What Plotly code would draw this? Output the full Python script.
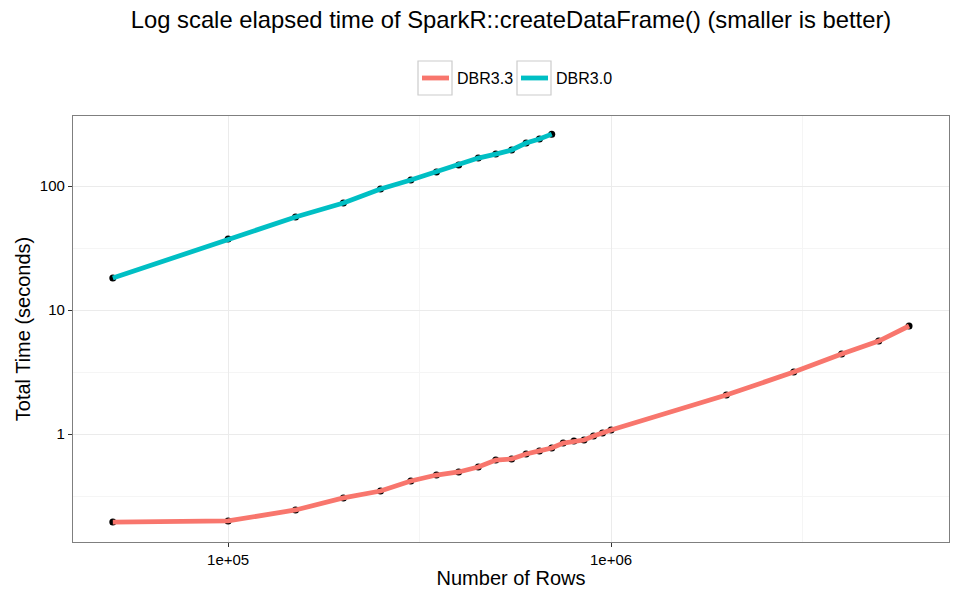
import plotly.graph_objects as go

# ---- data ----
rows_dbr30 = [5e4, 1e5, 1.5e5, 2e5, 2.5e5, 3e5, 3.5e5, 4e5, 4.5e5, 5e5, 5.5e5, 6e5, 6.5e5, 7e5]
time_dbr30 = [18.1, 37.4, 56.2, 72.9, 94.6, 111.7, 129.6, 147.6, 168.0, 181.0, 195.0, 222.0, 239.0, 262.0]

rows_dbr33 = [5e4, 1e5, 1.5e5, 2e5, 2.5e5, 3e5, 3.5e5, 4e5, 4.5e5, 5e5, 5.5e5, 6e5, 6.5e5, 7e5,
              7.5e5, 8e5, 8.5e5, 9e5, 9.5e5, 1e6, 2e6, 3e6, 4e6, 5e6, 6e6]
time_dbr33 = [0.195, 0.199, 0.244, 0.305, 0.347, 0.418, 0.467, 0.494, 0.542, 0.617, 0.629, 0.69, 0.73, 0.77,
              0.846, 0.878, 0.894, 0.963, 1.02, 1.077, 2.06, 3.16, 4.42, 5.62, 7.43]

x_tickvals = [1e5, 1e6]
x_ticktext = ["1e+05", "1e+06"]
y_tickvals = [1, 10, 100]
y_ticktext = ["1", "10", "100"]
x_minor = [10 ** 5.5, 10 ** 6.5]
y_minor = [10 ** -0.5, 10 ** 0.5, 10 ** 1.5]

series = [("DBR3.3", rows_dbr33, time_dbr33, "#F8766D"),
          ("DBR3.0", rows_dbr30, time_dbr30, "#00BFC4")]

FONT = "Liberation Sans, Arial, sans-serif"

fig = go.Figure()
# points first (black), lines drawn over them
for name, xs, ys, col in series:
    fig.add_trace(go.Scatter(x=xs, y=ys, mode="markers", showlegend=False,
                             marker=dict(color="black", size=7), hoverinfo="skip"))
for name, xs, ys, col in series:
    fig.add_trace(go.Scatter(x=xs, y=ys, mode="lines", name=name, showlegend=False,
                             line=dict(color=col, width=4.8)))

# plot area geometry in px
L, R, T, B = 73, 949, 116, 542
W, H = R - L, B - T


def px_x(p):
    return (p - L) / W


def px_y(p):
    return (B - p) / H


# manual ggplot-style legend
shapes = []
annotations = []
legend_items = [(418, "DBR3.3", "#F8766D"), (517, "DBR3.0", "#00BFC4")]
for x0, label, col in legend_items:
    shapes.append(dict(type="rect", xref="paper", yref="paper",
                       x0=px_x(x0), x1=px_x(x0 + 34), y0=px_y(95), y1=px_y(61),
                       line=dict(color="#cccccc", width=1.2), fillcolor="white", layer="above"))
    shapes.append(dict(type="line", xref="paper", yref="paper",
                       x0=px_x(x0 + 4), x1=px_x(x0 + 31), y0=px_y(78), y1=px_y(78),
                       line=dict(color=col, width=4.8), layer="above"))
    annotations.append(dict(text=label, xref="paper", yref="paper", x=px_x(x0 + 37), y=px_y(78),
                            xanchor="left", yanchor="middle", showarrow=False,
                            font=dict(size=16, color="black", family=FONT)))

fig.update_layout(
    width=960, height=600,
    margin=dict(l=L, r=960 - R, t=T, b=600 - B),
    paper_bgcolor="white", plot_bgcolor="white",
    font=dict(family=FONT, color="black"),
    title=dict(text="Log scale elapsed time of SparkR::createDataFrame() (smaller is better)",
               x=(L + R) / 2 / 960, xanchor="center", y=1 - 20 / 600, yanchor="middle",
               font=dict(size=23.8, color="black", family=FONT)),
    shapes=shapes, annotations=annotations,
    xaxis=dict(type="log", range=[4.595, 6.8825], automargin=False,
               tickmode="array", tickvals=x_tickvals, ticktext=x_ticktext,
               showgrid=True, gridcolor="#ebebeb", gridwidth=1,
               minor=dict(tickmode="array", tickvals=x_minor, showgrid=True,
                          gridcolor="#f5f5f5", gridwidth=1, ticks=""),
               showline=True, mirror=True, linecolor="#7f7f7f", linewidth=1.2,
               ticks="outside", ticklen=4, tickcolor="#333333", tickwidth=1,
               tickfont=dict(size=15, color="black"),
               title=dict(text="Number of Rows", font=dict(size=20, color="black"), standoff=3),
               zeroline=False),
    yaxis=dict(type="log", range=[-0.871, 2.5645], automargin=False,
               tickmode="array", tickvals=y_tickvals, ticktext=y_ticktext,
               showgrid=True, gridcolor="#ebebeb", gridwidth=1,
               minor=dict(tickmode="array", tickvals=y_minor, showgrid=True,
                          gridcolor="#f5f5f5", gridwidth=1, ticks=""),
               showline=True, mirror=True, linecolor="#7f7f7f", linewidth=1.2,
               ticks="outside", ticklen=4, tickcolor="#333333", tickwidth=1,
               tickfont=dict(size=15, color="black"),
               title=dict(text="Total Time (seconds)", font=dict(size=20, color="black"), standoff=3),
               zeroline=False),
)

fig.write_html("out.html", config={"displayModeBar": False},
               post_script="document.body.style.margin='0';document.body.style.overflow='hidden';")
